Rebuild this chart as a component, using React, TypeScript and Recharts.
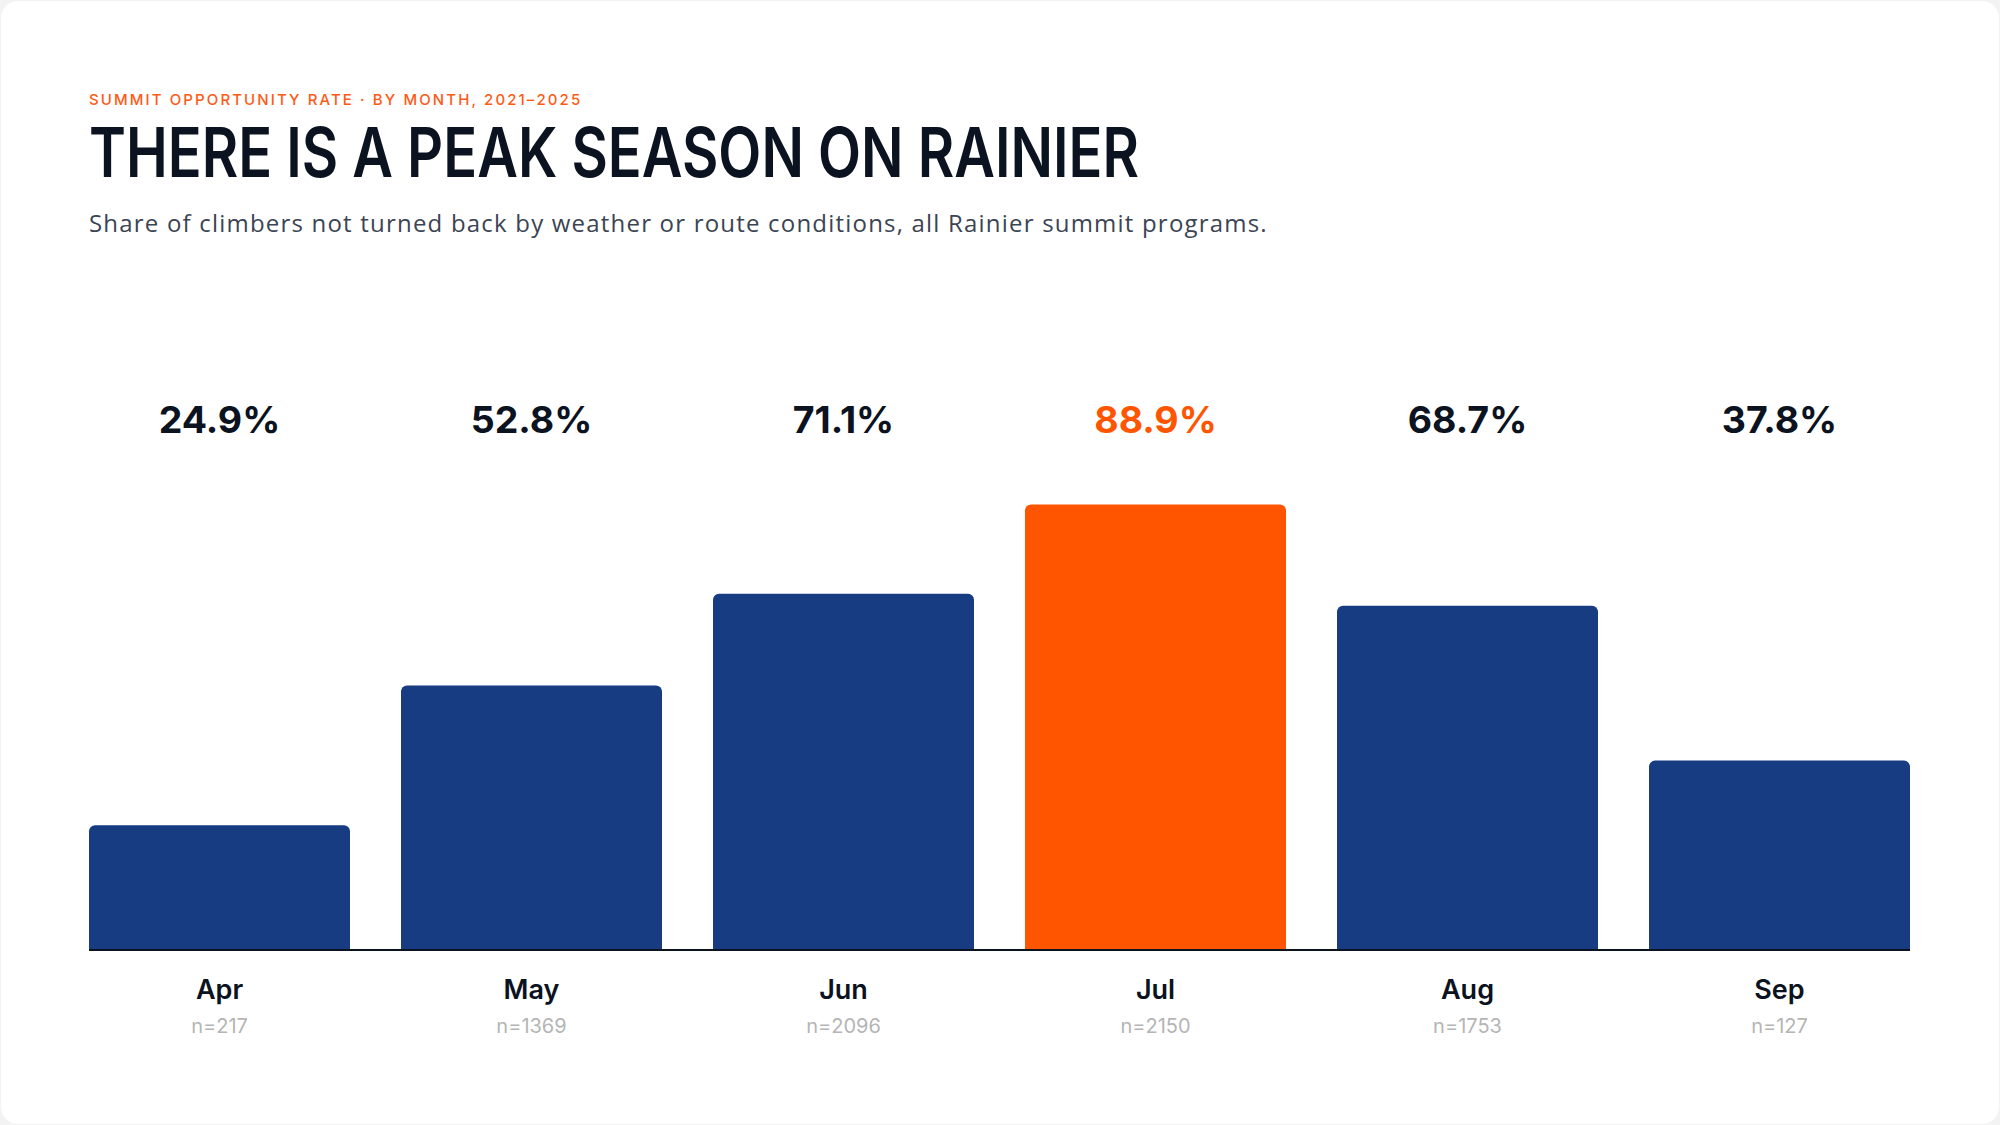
import React from 'react';
import { BarChart, Bar, XAxis, YAxis, Cell, LabelList } from 'recharts';

const months = ['Apr', 'May', 'Jun', 'Jul', 'Aug', 'Sep'];
const rates = [24.9, 52.8, 71.1, 88.9, 68.7, 37.8];
const counts = [217, 1369, 2096, 2150, 1753, 127];
const highlightMonth = 'Jul';

const NAVY = '#183c82';
const ORANGE = '#ff5500';
const INK = '#0b1220';

const data = months.map((m, i) => ({ month: m, rate: rates[i], n: counts[i] }));

const W = 2000;
const H = 1125;
const MARGIN = { top: 449, right: 64.5, bottom: 75, left: 63.5 };
const EDGE = 25.5;

const ValueLabel = (props: any) => {
  const { x, width, index } = props;
  const d = data[index];
  const color = d.month === highlightMonth ? ORANGE : INK;
  return (
    <text
      x={Number(x) + Number(width) / 2}
      y={MARGIN.top - 16}
      textAnchor="middle"
      fill={color}
      style={{ fontFamily: 'Inter, sans-serif', fontWeight: 700, fontSize: 37.5 }}
    >
      {d.rate.toFixed(1)}%
    </text>
  );
};

const MonthTick = (props: any) => {
  const { x, y, payload, index } = props;
  const n = counts[index];
  return (
    <g>
      <text
        x={x}
        y={y + 49}
        textAnchor="middle"
        fill={INK}
        style={{ fontFamily: 'Inter, sans-serif', fontWeight: 600, fontSize: 27 }}
      >
        {payload.value}
      </text>
      <text
        x={x}
        y={y + 83}
        textAnchor="middle"
        fill="#b5b5b5"
        style={{ fontFamily: 'Inter, sans-serif', fontWeight: 400, fontSize: 20 }}
      >
        n={n}
      </text>
    </g>
  );
};

export default function App() {
  const lineLen = W - MARGIN.left - MARGIN.right - 2 * EDGE;
  return (
    <div style={{ width: W, height: H, position: 'relative', background: '#f3f3f3', overflow: 'hidden' }}>
      <style>{'body{margin:0;}'}</style>
      <div
        style={{
          position: 'absolute',
          left: 0,
          top: 0,
          width: W,
          height: H,
          background: '#ffffff',
          borderRadius: 18,
          boxSizing: 'border-box',
          border: '1px solid #f2f2f2',
        }}
      />
      <div
        style={{
          position: 'absolute',
          left: 89,
          top: 92,
          fontFamily: 'Inter, sans-serif',
          fontSize: 15,
          lineHeight: 1,
          fontWeight: 500,
          letterSpacing: 2.1,
          color: '#ff5a14',
          whiteSpace: 'nowrap',
        }}
      >
        SUMMIT OPPORTUNITY RATE · BY MONTH, 2021–2025
      </div>
      <svg
        width={1100}
        height={90}
        style={{ position: 'absolute', left: 89, top: 110, overflow: 'visible' }}
      >
        <text
          x={0}
          y={67}
          textLength={1050}
          lengthAdjust="spacingAndGlyphs"
          fill={INK}
          style={{ fontFamily: 'Inter, sans-serif', fontWeight: 600, fontSize: 69 }}
        >
          THERE IS A PEAK SEASON ON RAINIER
        </text>
      </svg>
      <div
        style={{
          position: 'absolute',
          left: 89,
          top: 210.7,
          fontFamily: '"Open Sans", sans-serif',
          fontSize: 24,
          lineHeight: 1,
          fontWeight: 400,
          letterSpacing: 1.2,
          color: '#3b4453',
          whiteSpace: 'nowrap',
        }}
      >
        Share of climbers not turned back by weather or route conditions, all Rainier summit programs.
      </div>
      <div style={{ position: 'absolute', left: 0, top: 0 }}>
        <BarChart width={W} height={H} data={data} margin={MARGIN} barCategoryGap={EDGE}>
          <YAxis hide domain={[0, 100]} type="number" />
          <XAxis
            dataKey="month"
            height={100}
            tickLine={false}
            tickSize={0}
            tickMargin={0}
            interval={0}
            axisLine={{ stroke: INK, strokeWidth: 2, strokeDasharray: `0 ${EDGE} ${lineLen} 400` }}
            tick={<MonthTick />}
          />
          <Bar dataKey="rate" radius={[6, 6, 0, 0]} isAnimationActive={false}>
            {data.map((d) => (
              <Cell key={d.month} fill={d.month === highlightMonth ? ORANGE : NAVY} />
            ))}
            <LabelList dataKey="rate" content={<ValueLabel />} />
          </Bar>
        </BarChart>
      </div>
    </div>
  );
}
